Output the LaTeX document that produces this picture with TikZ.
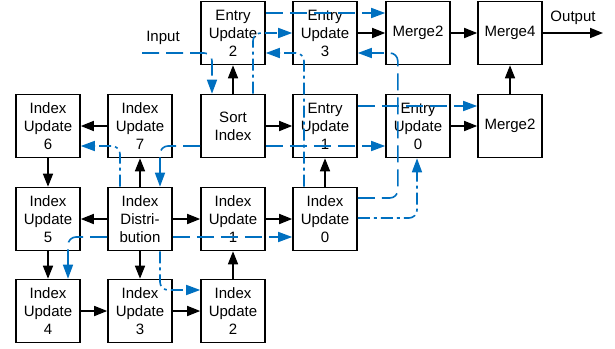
\documentclass[tikz,border=0pt]{standalone}
\usepackage{fontspec}
\setmainfont{Liberation Sans}
\usetikzlibrary{arrows.meta,calc}
\definecolor{flow}{RGB}{0,112,192}
\tikzset{
  blk/.style={draw=black, line width=1.6pt, fill=white, minimum width=64pt, minimum height=63pt,
    inner sep=0pt, align=center, font=\fontsize{15pt}{18pt}\selectfont},
  arr/.style={line width=1.6pt, -{Triangle[length=13pt,width=10pt]}},
  bl/.style={draw=flow, line width=1.6pt, rounded corners=8pt, -{Triangle[length=14pt,width=10pt]}},
  dsh/.style={dash pattern=on 17pt off 7pt},
  dshdot/.style={dash pattern=on 12pt off 4pt on 3pt off 4pt},
  lbl/.style={font=\fontsize{15pt}{18pt}\selectfont, inner sep=0pt}
}
\begin{document}
\begin{tikzpicture}[x=1pt,y=-1pt]
\useasboundingbox (0,0) rectangle (615,348);
% top row
\node[blk] (eu2) at (233,33) {Entry\\Update\\2};
\node[blk] (eu3) at (325,33) {Entry\\Update\\3};
\node[blk] (m2a) at (418,33) {Merge2};
\node[blk] (m4)  at (510,33) {Merge4};
% second row
\node[blk] (iu6) at (48,126) {Index\\Update\\6};
\node[blk] (iu7) at (140,126) {Index\\Update\\7};
\node[blk] (si)  at (233,126) {Sort\\Index};
\node[blk] (eu1) at (325,126) {Entry\\Update\\1};
\node[blk] (eu0) at (418,126) {Entry\\Update\\0};
\node[blk] (m2b) at (510,126) {Merge2};
% third row
\node[blk] (iu5) at (48,219) {Index\\Update\\5};
\node[blk] (idist) at (140,219) {Index\\Distri-\\bution};
\node[blk] (iu1) at (233,219) {Index\\Update\\1};
\node[blk] (iu0) at (325,219) {Index\\Update\\0};
% bottom row
\node[blk] (iu4) at (48,311) {Index\\Update\\4};
\node[blk] (iu3) at (140,311) {Index\\Update\\3};
\node[blk] (iu2) at (233,311) {Index\\Update\\2};

% labels and free ends
\node[lbl] (inlbl) at (163,38) {Input};
\node[lbl] (outlbl) at (573,18) {Output};
\coordinate (inp) at (142,53);
\coordinate (out) at (603,33);

% black data flow
\draw[arr] (si) -- (eu2);
\draw[arr] (si) -- (eu1);
\draw[arr] (eu3) -- (m2a);
\draw[arr] (m2a) -- (m4);
\draw[arr] (m4.east) -- (out);
\draw[arr] (m2b) -- (m4);
\draw[arr] (eu0) -- (m2b);
\draw[arr] (iu7) -- (iu6);
\draw[arr] (iu6) -- (iu5);
\draw[arr] (idist) -- (iu7);
\draw[arr] (idist) -- (iu5);
\draw[arr] (idist) -- (iu1);
\draw[arr] (idist) -- (iu3);
\draw[arr] (iu5) -- (iu4);
\draw[arr] (iu4) -- (iu3);
\draw[arr] (iu3) -- (iu2);
\draw[arr] (iu2) -- (iu1);
\draw[arr] (iu1) -- (iu0);
\draw[arr] (iu0) -- (eu1);

% blue control flow
\draw[bl,dsh] (inp) -| ($(si.north)+(-21,0)$);
\draw[bl,dsh] ($(eu2.east)+(0,-20)$) -- ($(m2a.west)+(0,-20)$);
\draw[bl,dshdot] ($(si.north)+(20,0)$) |- (eu3.west);
\draw[bl,dshdot] ($(iu0.north)+(-21,0)$) |- ($(eu2.east)+(0,20)$);
\draw[bl,dsh] ($(iu0.east)+(0,-21)$) -- ++(40,0) |- ($(eu3.east)+(0,20)$);
\draw[bl,dsh] ($(eu1.east)+(0,-20)$) -- ($(m2b.west)+(0,-20)$);
\draw[bl,dsh] ($(si.east)+(0,20)$) -- ($(eu0.west)+(0,20)$);
\draw[bl,dsh] ($(si.west)+(0,20)$) -| ($(idist.north)+(20,0)$);
\draw[bl,dshdot] ($(idist.north)+(-20,0)$) |- ($(iu6.east)+(0,20)$);
\draw[bl,dsh] ($(idist.west)+(0,18)$) -| ($(iu4.north)+(20,0)$);
\draw[bl,dsh] ($(idist.east)+(0,18)$) -- ($(iu0.west)+(0,18)$);
\draw[bl,dshdot] ($(idist.south)+(20,0)$) |- ($(iu2.west)+(0,-21)$);
\draw[bl,dshdot] ($(iu0.east)+(0,-1)$) -| ($(eu0.south)+(-1,0)$);
\end{tikzpicture}
\end{document}
